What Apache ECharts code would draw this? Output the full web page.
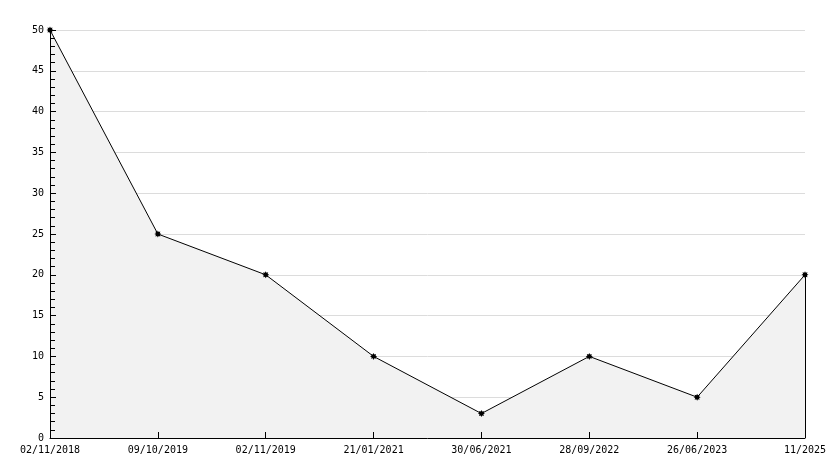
<!DOCTYPE html>
<html><head><meta charset="utf-8">
<script src="https://cdn.jsdelivr.net/npm/echarts@6/dist/echarts.min.js"></script>
<style>html,body{margin:0;padding:0;background:#fff}#c{width:834px;height:468px}</style>
</head><body><div id="c"></div>
<script>
const categories = ["02/11/2018","09/10/2019","02/11/2019","21/01/2021","30/06/2021","28/09/2022","26/06/2023","11/2025"];
const values = [50, 25, 20, 10, 3, 10, 5, 20];
const yMin = 0, yMax = 50, yStep = 5;

// 8-point star marker shape
let pts = [];
for (let i = 0; i < 16; i++) {
  const a = Math.PI * i / 8;
  const r = i % 2 === 0 ? 10 : 6;
  pts.push((10 + r * Math.cos(a)).toFixed(2) + ' ' + (10 + r * Math.sin(a)).toFixed(2));
}
const starPath = 'path://M' + pts.join(' L') + ' Z';

const font = "DejaVu Sans Mono";
const chart = echarts.init(document.getElementById('c'), null, {renderer: 'canvas'});
const last = categories.length - 1;
chart.setOption({
  animation: false,
  backgroundColor: '#fff',
  grid: {left: 50, right: 29, top: 30, bottom: 30, containLabel: false},
  xAxis: [{
    type: 'category', data: categories, boundaryGap: false, z: 0,
    axisLine: {show: false}, axisTick: {show: false}, axisLabel: {show: false},
    splitLine: {show: false}
  }, {
    type: 'category', data: categories, boundaryGap: false, position: 'bottom', z: 10,
    axisLine: {lineStyle: {color: '#000', width: 1}},
    axisTick: {inside: true, length: 6, alignWithLabel: true, lineStyle: {color: '#000'}},
    axisLabel: {color: '#000', fontFamily: font, fontSize: 10, margin: 7, interval: 0, showMinLabel: true, showMaxLabel: true},
    splitLine: {show: false}
  }],
  yAxis: [{
    type: 'value', min: yMin, max: yMax, interval: yStep, z: 0,
    axisLine: {show: false}, axisTick: {show: false}, axisLabel: {show: false},
    splitLine: {show: true, lineStyle: {color: '#dcdcdc', width: 1}}
  }, {
    type: 'value', min: yMin, max: yMax, interval: yStep, position: 'left', z: 10,
    axisLine: {show: true, lineStyle: {color: '#000', width: 1}},
    axisTick: {show: true, inside: true, length: 6, lineStyle: {color: '#000'}},
    minorTick: {show: true, splitNumber: 5, length: 5, lineStyle: {color: '#000'}},
    axisLabel: {color: '#000', fontFamily: font, fontSize: 10, margin: 6},
    splitLine: {show: false}
  }],
  series: [{
    type: 'line', data: values, xAxisIndex: 0, yAxisIndex: 0, z: 2,
    symbol: starPath, symbolSize: 7,
    itemStyle: {color: '#000'},
    lineStyle: {color: '#000', width: 1},
    areaStyle: {color: '#f2f2f2', opacity: 1},
    markLine: {
      silent: true, symbol: 'none', label: {show: false},
      lineStyle: {color: '#000', width: 1, type: 'solid'},
      data: [[{coord: [last, yMin]}, {coord: [last, values[last]]}]]
    }
  }]
});
</script></body></html>
